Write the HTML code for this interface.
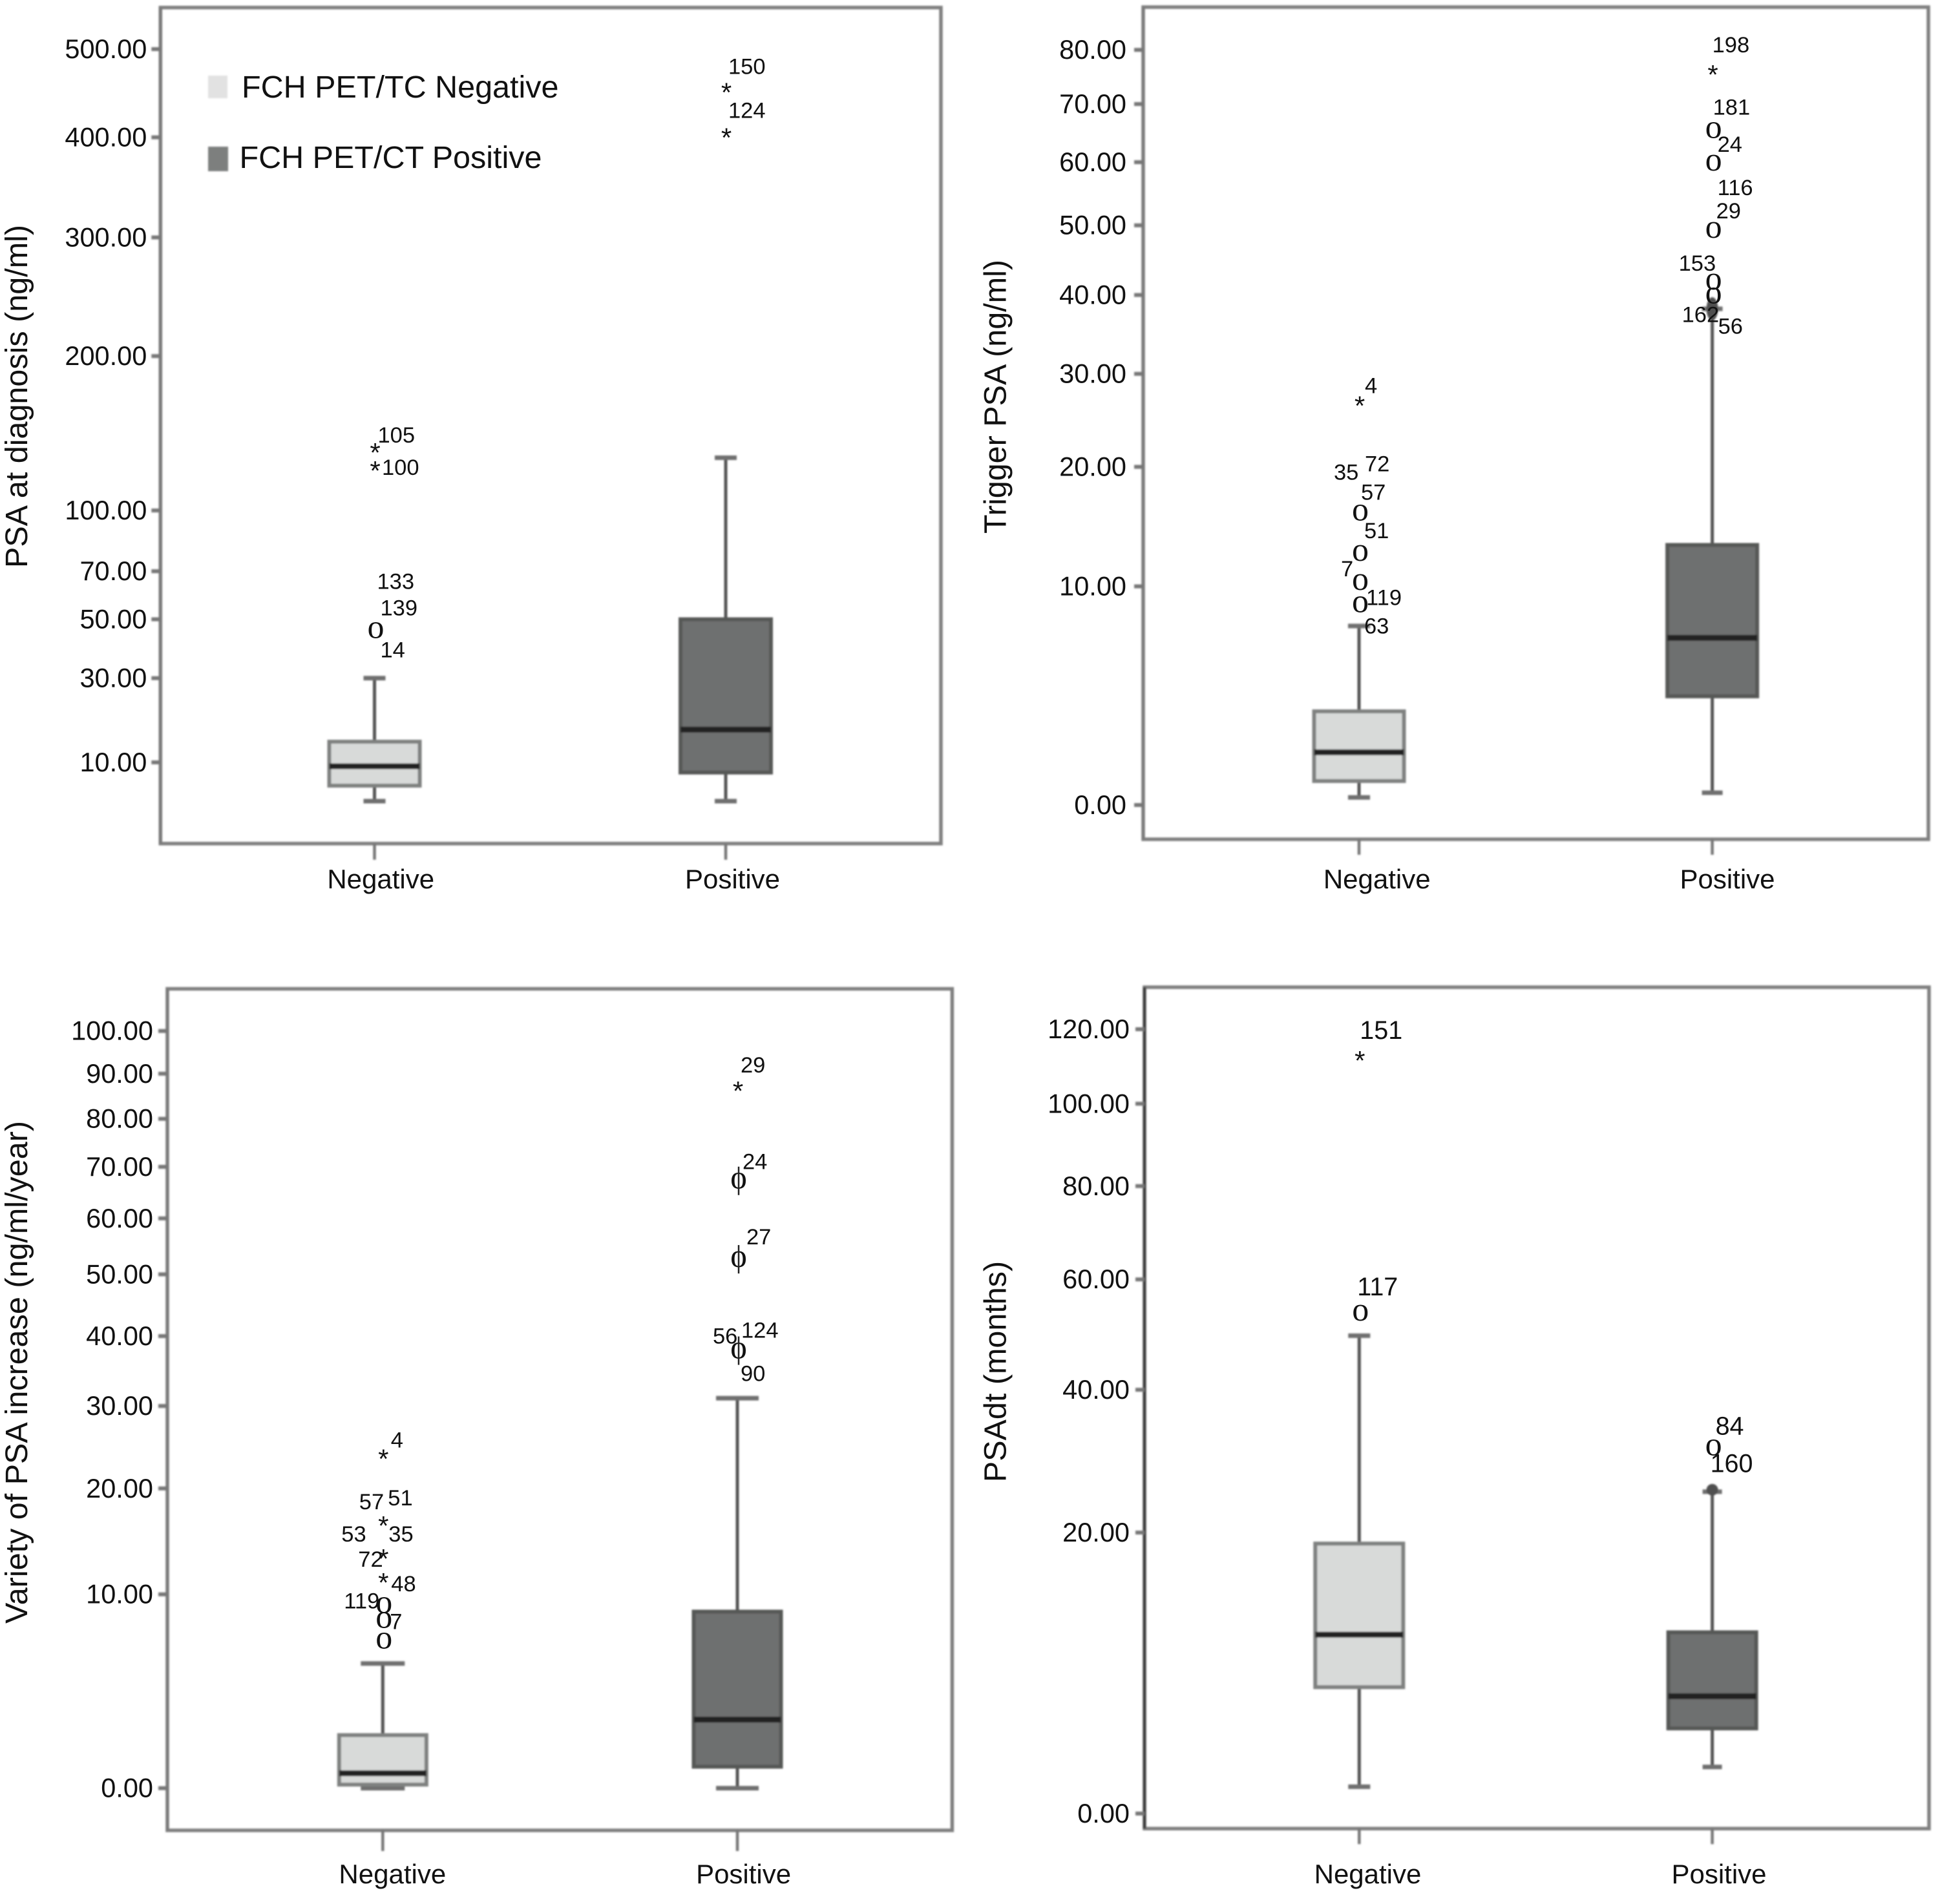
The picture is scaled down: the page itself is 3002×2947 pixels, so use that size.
<!DOCTYPE html>
<html lang="en">
<head>
<meta charset="utf-8">
<title>FCH PET/CT box plots</title>
<style>
html,body{margin:0;padding:0;background:#fff;}
svg{display:block;}
text{font-family:"Liberation Sans",Arial,sans-serif;fill:#111;}
.mk{font-family:"Liberation Serif",serif;}
</style>
</head>
<body>
<svg id="chart" xmlns="http://www.w3.org/2000/svg" width="3002" height="2947" viewBox="0 0 3002 2947">
  <defs>
    <filter id="soft" x="-10%" y="-10%" width="120%" height="120%"><feGaussianBlur stdDeviation="1.3"/></filter>
  </defs>
  <rect x="0" y="0" width="3002" height="2947" fill="#fff"/>
</svg>
<script>
// ---------- Categories ----------
const categories = ['Negative', 'Positive'];

// ---------- PSA at diagnosis ----------
const diagTicks = [10, 30, 50, 70, 100, 200, 300, 400, 500];
const diagNegBox = [4.2, 6.26, 9.32, 13.97, 30];
const diagPosBox = [4.2, 8.27, 16.57, 50, 130.3];
const diagNegOutliers = [135.8, 124.6, 45.85];
const diagNegMarkers = ['*', '*', 'o'];
const diagNegCases = ['105', '100', '133', '139', '14'];
const diagNegOwners = [0, 1, 2, 2, 2];
const diagPosOutliers = [453.5, 403.4];
const diagPosMarkers = ['*', '*'];
const diagPosCases = ['150', '124'];
const diagPosOwners = [0, 1];

// ---------- Trigger PSA ----------
const trigTicks = [0, 10, 20, 30, 40, 50, 60, 70, 80];
const trigNegBox = [0.167, 0.573, 1.43, 2.97, 7.39];
const trigPosBox = [0.277, 3.63, 6.68, 13.1, 38.15];
const trigNegOutliers = [26.76, 15.79, 12.47, 10.3, 8.77];
const trigNegMarkers = ['*', 'o', 'o', 'o', 'o'];
const trigNegCases = ['4', '72', '35', '57', '51', '7', '119', '63'];
const trigNegOwners = [0, 1, 1, 1, 2, 3, 4, 4];
const trigPosOutliers = [76.0, 65.4, 59.9, 49.27, 41.84, 39.9, 38.15];
const trigPosMarkers = ['*', 'o', 'o', 'o', 'o', 'o', 'blob-tall'];
const trigPosCases = ['198', '181', '24', '116', '29', '153', '162', '56'];
const trigPosOwners = [0, 1, 2, 3, 3, 4, 5, 5];

// ---------- Variety of PSA increase ----------
const varTicks = [0, 10, 20, 30, 40, 50, 60, 70, 80, 90, 100];
const varNegBox = [0, 0.087, 0.388, 1.67, 5.2];
const varPosBox = [0, 0.579, 2.31, 8.67, 31.05];
const varNegOutliers = [23.77, 16.46, 13.34, 11.26, 9.16, 8.06, 6.62];
const varNegMarkers = ['*', '*', '*', '*', 'o', 'o', 'o'];
const varNegCases = ['4', '51', '57', '53', '35', '72', '48', '119', '7'];
const varNegOwners = [0, 1, 1, 2, 1, 2, 3, 4, 5];
const varPosOutliers = [86.9, 67.2, 52.6, 37.8];
const varPosMarkers = ['*', 'phi', 'phi', 'phi'];
const varPosCases = ['29', '24', '27', '56', '124', '90'];
const varPosOwners = [0, 1, 2, 3, 3, 3];

// ---------- PSAdt ----------
const dtTicks = [0, 20, 40, 60, 80, 100, 120];
const dtNegBox = [0.8, 5.82, 9.76, 18.73, 49.3];
const dtPosBox = [1.54, 3.35, 5.23, 9.96, 25.04];
const dtNegOutliers = [112.3, 53.5];
const dtNegMarkers = ['*', 'o'];
const dtNegCases = ['151', '117'];
const dtNegOwners = [0, 1];
const dtPosOutliers = [31.1, 25.3];
const dtPosMarkers = ['o', 'blob'];
const dtPosCases = ['84', '160'];
const dtPosOwners = [0, 0];

// ---------- Layout (not data): frame geometry and label nudges ----------
const layouts = [
  {id:'psa-at-diagnosis', title:'PSA at diagnosis (ng/ml)', titleX:42, titleY:613.5,
   frame:[248.3,11.7,1456,1305.7], zero:1372, unit:57.9, centers:[579.5,1123], halfBox:70, caps:[17,17],
   catX:[589.2,1133.5], catY:1375, labelGap:21, caseSize:34.5, xTick:25, leftEdge:'#7a7a7a',
   ticks:diagTicks,
   groups:[
    {box:diagNegBox, out:diagNegOutliers, mk:diagNegMarkers, cases:diagNegCases, own:diagNegOwners,
     nudge:[[5,-10],[11.5,12],[4,-64],[9,-23],[9,42]]},
    {box:diagPosBox, out:diagPosOutliers, mk:diagPosMarkers, cases:diagPosCases, own:diagPosOwners,
     nudge:[[4,-23],[4,-25]]}
   ]},
  {id:'trigger-psa', title:'Trigger PSA (ng/ml)', titleX:1556.6, titleY:614,
   frame:[1769,11,2984,1299], zero:1392.1, unit:146.1, centers:[2103,2649.6], halfBox:69.5, caps:[17,16],
   catX:[2130.7,2673], catY:1375, labelGap:26, caseSize:34.5, xTick:24, leftEdge:'#7a7a7a',
   ticks:trigTicks,
   groups:[
    {box:trigNegBox, out:trigNegOutliers, mk:trigNegMarkers, cases:trigNegCases, own:trigNegOwners,
     nudge:[[9,-14],[9,-64],[-39,-51],[3,-20],[8,-23],[-28,-9],[11,1],[8,45]]},
    {box:trigPosBox, out:trigPosOutliers, mk:trigPosMarkers, cases:trigPosCases, own:trigPosOwners,
     nudge:[[0,-29],[1,-24],[8,-17],[8,-54],[6,-18],[-52,-17],[-47,41],[9,59]]}
   ]},
  {id:'variety-of-psa-increase', title:'Variety of PSA increase (ng/ml/year)', titleX:42, titleY:2124,
   frame:[259,1530.5,1473.4,2833], zero:2897.2, unit:129.5, centers:[592.3,1141], halfBox:67.5, caps:[34,33],
   catX:[607.3,1150.6], catY:2915, labelGap:22, caseSize:34.5, xTick:32, leftEdge:'#7a7a7a',
   ticks:varTicks,
   groups:[
    {box:varNegBox, out:varNegOutliers, mk:varNegMarkers, cases:varNegCases, own:varNegOwners,
     nudge:[[12.5,-12],[8,-26],[-36.5,-20],[-64,-21],[9,30],[-38,18],[13,19],[-60,5],[11,14]]},
    {box:varPosBox, out:varPosOutliers, mk:varPosMarkers, cases:varPosCases, own:varPosOwners,
     nudge:[[5,-23],[8,-18],[14,-23],[-38,-11],[6,-20],[5,47]]}
   ]},
  {id:'psadt', title:'PSAdt (months)', titleX:1556.6, titleY:2123,
   frame:[1771,1528,2985,2830.3], zero:2928.4, unit:121.4, centers:[2103.3,2649.6], halfBox:68, caps:[17,15],
   catX:[2116.5,2660], catY:2915, labelGap:23, caseSize:39.5, xTick:24, leftEdge:'#3f3f3f',
   ticks:dtTicks,
   groups:[
    {box:dtNegBox, out:dtNegOutliers, mk:dtNegMarkers, cases:dtNegCases, own:dtNegOwners,
     nudge:[[1,-28],[-3,-27]]},
    {box:dtPosBox, out:dtPosOutliers, mk:dtPosMarkers, cases:dtPosCases, own:dtPosOwners,
     nudge:[[5,-20],[-3,38]]}
   ]}
];

// Group styling
const boxFill = ['#d8dad9', '#6e706f'];
const boxEdge = ['#7f8180', '#565857'];

const NS = 'http://www.w3.org/2000/svg';
const svg = document.getElementById('chart');

function make(tag, parent, attrs) {
  const el = document.createElementNS(NS, tag);
  for (const k in attrs) el.setAttribute(k, attrs[k]);
  parent.appendChild(el);
  return el;
}

// The vertical axis is a square-root scale offset by one unit.
function axisY(L, v) {
  return L.zero - L.unit * Math.sqrt(v + 1);
}

function drawPanel(L) {
  const g = make('g', svg, {});
  
  

  const lines = make('g', g, {filter:'url(#soft)'});
  
  

  const [x0, y0, x1, y1] = L.frame;
  const frame = make('rect', lines, {x:x0, y:y0, width:x1 - x0, height:y1 - y0, fill:'none', stroke:'#808080', 'stroke-width':5.5});
  
  

  const leftLine = make('line', lines, {x1:x0, x2:x0, y1:y0, y2:y1, stroke:L.leftEdge, 'stroke-width':5});
  
  

  // y ticks
  L.ticks.forEach(function (t) {
    const y = axisY(L, t);
    const tick = make('line', lines, {x1:x0 - 14, x2:x0, y1:y, y2:y, stroke:'#777', 'stroke-width':6});
    
    
    const lab = make('text', g, {x:x0 - L.labelGap, y:y + 14, 'text-anchor':'end', 'font-size':41.5});
    lab.textContent = t.toFixed(2);
    
    
  });

  // y axis title
  const title = make('text', g, {x:0, y:0, 'text-anchor':'middle', 'font-size':48.5, transform:'translate(' + L.titleX + ',' + L.titleY + ') rotate(-90)'});
  title.textContent = L.title;
  
  

  L.groups.forEach(function (G, i) {
    const cx = L.centers[i];
    const cat = categories[i].toLowerCase();

    // x tick and category label
    const xt = make('line', lines, {x1:cx, x2:cx, y1:y1, y2:y1 + L.xTick, stroke:'#777', 'stroke-width':4.5});
    
    
    const xl = make('text', g, {x:L.catX[i], y:L.catY, 'text-anchor':'middle', 'font-size':42});
    xl.textContent = categories[i];
    
    

    const [lo, q1, med, q3, hi] = G.box;
    const yLo = axisY(L, lo), yQ1 = axisY(L, q1), yMed = axisY(L, med), yQ3 = axisY(L, q3), yHi = axisY(L, hi);

    const wh = make('line', lines, {x1:cx, x2:cx, y1:yHi, y2:yLo, stroke:'#555', 'stroke-width':5});
    
    

    [yHi, yLo].forEach(function (yc) {
      const cap = make('line', lines, {x1:cx - L.caps[i], x2:cx + L.caps[i], y1:yc, y2:yc, stroke:'#707070', 'stroke-width':7});
      
      
    });

    const box = make('rect', lines, {x:cx - L.halfBox, y:yQ3, width:L.halfBox * 2, height:yQ1 - yQ3, fill:boxFill[i], stroke:boxEdge[i], 'stroke-width':6});
    
    

    const m = make('line', lines, {x1:cx - L.halfBox, x2:cx + L.halfBox, y1:yMed, y2:yMed, stroke:'#222', 'stroke-width':9});
    
    

    // outliers
    G.out.forEach(function (v, j) {
      const y = axisY(L, v);
      const kind = G.mk[j];
      if (kind === 'blob' || kind === 'blob-tall') {
        const b = make('ellipse', lines, {cx:cx, cy:y, rx:9, ry:kind === 'blob' ? 9 : 18, fill:'#4f4f4f'});
        
        
        return;
      }
      if (kind === '*') {
        const s = make('text', g, {x:cx + 1, y:y + 20, 'text-anchor':'middle', 'font-size':42});
        s.textContent = '*';
        
        
      } else {
        const o = make('text', g, {x:cx + 2, y:y + 12, 'text-anchor':'middle', 'font-size':52, 'class':'mk'});
        o.textContent = 'o';
        
        
        if (kind === 'phi') {
          const st = make('line', g, {x1:cx + 2, x2:cx + 2, y1:y - 22, y2:y + 22, stroke:'#222', 'stroke-width':2.5});
          
          
        }
      }
    });

    // case labels, each anchored to its outlier
    G.cases.forEach(function (id, j) {
      const y = axisY(L, G.out[G.own[j]]);
      const c = make('text', g, {x:cx + G.nudge[j][0], y:y + G.nudge[j][1], 'font-size':L.caseSize});
      c.textContent = id;
      
      
    });
  });
}

layouts.forEach(drawPanel);

// ---------- Legend ----------
const legend = make('g', svg, {});



const swatchA = make('rect', legend, {x:322, y:117, width:30, height:35, fill:'#e2e2e2', filter:'url(#soft)'});


const textA = make('text', legend, {x:374, y:151, 'font-size':48.5});
textA.textContent = 'FCH PET/TC Negative';



const swatchB = make('rect', legend, {x:322, y:227, width:31, height:38, fill:'#7d7f7e', filter:'url(#soft)'});


const textB = make('text', legend, {x:370.5, y:260, 'font-size':48.5});
textB.textContent = 'FCH PET/CT Positive';


</script>
</body>
</html>
